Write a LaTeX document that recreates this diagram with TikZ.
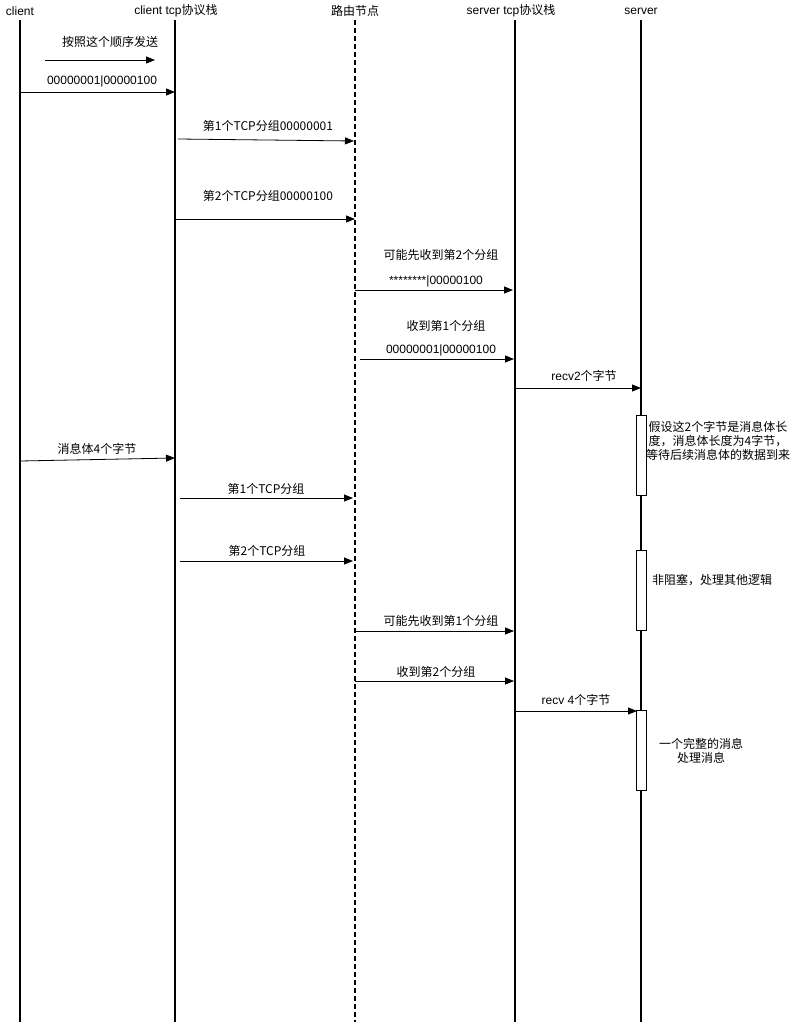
\documentclass[tikz,border=0pt]{standalone}
\usepackage{fontspec}
\setmainfont{Liberation Sans}
\newfontfamily\cjk{Noto Sans CJK SC}
\usetikzlibrary{arrows.meta}
\begin{document}
\begin{tikzpicture}[x=1pt,y=-1pt,
  life/.style={line width=2pt},
  dlife/.style={line width=2pt,dash pattern=on 5pt off 3pt},
  msg/.style={line width=0.8pt,-{Triangle[length=9pt,width=7pt]}},
  lbl/.style={font=\fontsize{12}{14}\selectfont, inner sep=1pt},
  note/.style={font=\fontsize{12}{14}\selectfont, inner sep=1pt, align=center},
  act/.style={draw, fill=white, line width=0.8pt, minimum width=10pt, inner sep=0pt}]
\useasboundingbox (0,0) rectangle (797,1022);
% headers
\node[lbl] (hc) at (20,11) {client};
\node[lbl] (hct) at (176,11) {client tcp\cjk{协议栈}};
\node[lbl] (hr) at (355,11) {\cjk{路由节点}};
\node[lbl] (hst) at (511,11) {server tcp\cjk{协议栈}};
\node[lbl] (hs) at (641,11) {server};
% lifelines
\coordinate (c0) at (20,20);   \coordinate (c1) at (20,1022);
\coordinate (ct0) at (175,20); \coordinate (ct1) at (175,1022);
\coordinate (r0) at (355,20);  \coordinate (r1) at (355,1022);
\coordinate (st0) at (515,20); \coordinate (st1) at (515,1022);
\coordinate (s0) at (641,20);  \coordinate (s1) at (641,1022);
\draw[life] (c0) -- (c1);
\draw[life] (ct0) -- (ct1);
\draw[dlife] (r0) -- (r1);
\draw[life] (st0) -- (st1);
\draw[life] (s0) -- (s1);
% activation boxes
\node[act, minimum height=80pt] (a1) at (641,455) {};
\node[act, minimum height=80pt] (a2) at (641,590) {};
\node[act, minimum height=80pt] (a3) at (641,750) {};
% messages
\coordinate (m0a) at (45,60); \coordinate (m0b) at (155,60);
\draw[msg] (m0a) -- (m0b);
\node[lbl] (l0) at (110,42) {\cjk{按照这个顺序发送}};

\coordinate (m1a) at (20,92); \coordinate (m1b) at (175,92);
\draw[msg] (m1a) -- (m1b);
\node[lbl] (l1) at (102,81) {00000001|00000100};

\coordinate (m2a) at (178,139); \coordinate (m2b) at (354,141);
\draw[msg] (m2a) -- (m2b);
\node[lbl] (l2) at (268,126) {\cjk{第}1\cjk{个}TCP\cjk{分组}00000001};

\coordinate (m3a) at (176,219); \coordinate (m3b) at (355,219);
\draw[msg] (m3a) -- (m3b);
\node[lbl] (l3) at (268,196) {\cjk{第}2\cjk{个}TCP\cjk{分组}00000100};

\coordinate (m4a) at (355,290); \coordinate (m4b) at (513,290);
\draw[msg] (m4a) -- (m4b);
\node[lbl] (l4a) at (441,255) {\cjk{可能先收到第}2\cjk{个分组}};
\node[lbl] (l4b) at (436,281) {********|00000100};

\coordinate (m5a) at (360,359); \coordinate (m5b) at (514,359);
\draw[msg] (m5a) -- (m5b);
\node[lbl] (l5a) at (446,326) {\cjk{收到第}1\cjk{个分组}};
\node[lbl] (l5b) at (441,350) {00000001|00000100};

\coordinate (m6a) at (515,388); \coordinate (m6b) at (641,388);
\draw[msg] (m6a) -- (m6b);
\node[lbl] (l6) at (584,376) {recv2\cjk{个字节}};

\node[note] (n1) at (718,441) {\cjk{假设这}2\cjk{个字节是消息体长}\\\cjk{度，消息体长度为}4\cjk{字节，}\\\cjk{等待后续消息体的数据到来}};

\coordinate (m7a) at (20,461); \coordinate (m7b) at (175,458);
\draw[msg] (m7a) -- (m7b);
\node[lbl] (l7) at (97,449) {\cjk{消息体}4\cjk{个字节}};

\coordinate (m8a) at (180,498); \coordinate (m8b) at (353,498);
\draw[msg] (m8a) -- (m8b);
\node[lbl] (l8) at (266,489) {\cjk{第}1\cjk{个}TCP\cjk{分组}};

\coordinate (m9a) at (180,561); \coordinate (m9b) at (353,561);
\draw[msg] (m9a) -- (m9b);
\node[lbl] (l9) at (267,551) {\cjk{第}2\cjk{个}TCP\cjk{分组}};

\node[lbl] (n2) at (712,580) {\cjk{非阻塞，处理其他逻辑}};

\coordinate (m10a) at (355,631); \coordinate (m10b) at (514,631);
\draw[msg] (m10a) -- (m10b);
\node[lbl] (l10) at (441,621) {\cjk{可能先收到第}1\cjk{个分组}};

\coordinate (m11a) at (355,681); \coordinate (m11b) at (514,681);
\draw[msg] (m11a) -- (m11b);
\node[lbl] (l11) at (436,672) {\cjk{收到第}2\cjk{个分组}};

\coordinate (m12a) at (515,711); \coordinate (m12b) at (637,711);
\draw[msg] (m12a) -- (m12b);
\node[lbl] (l12) at (576,700) {recv 4\cjk{个字节}};

\node[note] (n3) at (701,751) {\cjk{一个完整的消息}\\\cjk{处理消息}};
\end{tikzpicture}
\end{document}
